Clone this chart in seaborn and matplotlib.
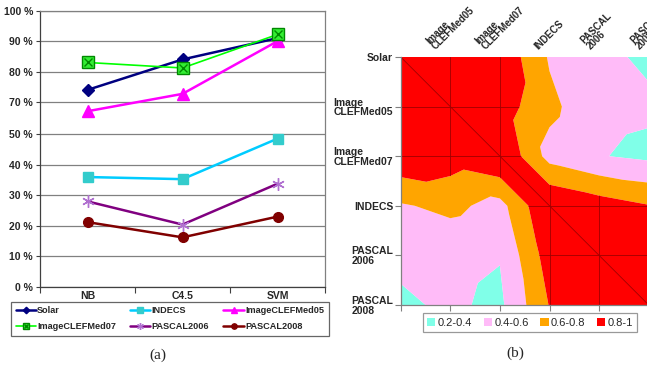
import numpy as np
import matplotlib
matplotlib.use('Agg')
import matplotlib.pyplot as plt
import seaborn as sns
from matplotlib.patches import Patch
from matplotlib.ticker import FixedLocator
from matplotlib.tri import Triangulation

# ---- panel (a): accuracy (%) of each classifier on each dataset ----
classifiers = ['NB', 'C4.5', 'SVM']
solar = [74, 84, 91]
indecs = [36, 35.3, 48.6]
clef05 = [67, 72.7, 90]
clef07 = [83, 81.2, 92.2]
pascal06 = [28, 20.4, 33.8]
pascal08 = [21.2, 16.2, 23]
y_ticks = [0, 10, 20, 30, 40, 50, 70, 80, 90, 100]  # original chart has no 60 % row

# ---- panel (b): similarity between datasets ----
row_names = ['Solar', 'Image\nCLEFMed05', 'Image\nCLEFMed07', 'INDECS', 'PASCAL\n2006', 'PASCAL\n2008']
col_names = ['', 'Image\nCLEFMed05', 'Image\nCLEFMed07', 'INDECS', 'PASCAL\n2006', 'PASCAL\n2008']
sim_solar = [1.00, 0.93, 0.96, 0.58, 0.44, 0.37]
sim_clef05 = [0.93, 1.00, 0.90, 0.65, 0.45, 0.43]
sim_clef07 = [0.96, 0.90, 1.00, 0.53, 0.41, 0.36]
sim_indecs = [0.58, 0.65, 0.53, 1.00, 0.90, 0.81]
sim_pascal06 = [0.44, 0.45, 0.41, 0.90, 1.00, 0.92]
sim_pascal08 = [0.37, 0.43, 0.36, 0.81, 0.92, 1.00]
levels = [0.2, 0.4, 0.6, 0.8, 1.0]
level_names = ['0.2-0.4', '0.4-0.6', '0.6-0.8', '0.8-1']
level_colors = ['#80FFE8', '#FFBBF8', '#FFA500', '#FF0000']

sns.set_theme(style='white')
plt.rcParams['font.family'] = ['Liberation Sans', 'DejaVu Sans']

W, H = 647, 365
fig = plt.figure(figsize=(W / 100, H / 100), dpi=100)


def squash(v):
    # the 50-60 % band was cut out of the original axis
    v = np.asarray(v, dtype=float)
    return np.where(v <= 50, v, np.where(v >= 60, v - 9.4, 50 + (v - 50) * 0.06))


def unsquash(t):
    t = np.asarray(t, dtype=float)
    return np.where(t <= 50, t, np.where(t >= 50.6, t + 9.4, 50 + (t - 50) / 0.06))


# ---------------- (a) ----------------
ax1 = fig.add_axes([40 / W, 1 - 286.7 / H, 285 / W, 276 / H])
series = [
    # name, values, line colour, marker, marker colour, marker size, line width
    ('Solar', solar, '#000080', 'D', '#000080', 6, 1.8),
    ('INDECS', indecs, '#00CCFF', 's', '#33CCCC', 7.5, 1.8),
    ('ImageCLEFMed05', clef05, '#FF00FF', '^', '#FF00FF', 8, 1.8),
    ('ImageCLEFMed07', clef07, '#00FF00', 's', '#33EE33', 8, 1.2),
    ('PASCAL2006', pascal06, '#800080', (6, 2, 0), '#B070D0', 9, 1.8),
    ('PASCAL2008', pascal08, '#800000', 'o', '#800000', 7, 1.8),
]
handles = {}
for name, vals, lc, mk, mc, ms, lw in series:
    sns.lineplot(x=classifiers, y=vals, ax=ax1, sort=False, errorbar=None,
                 color=lc, lw=lw, marker=mk, ms=ms, mfc=mc, mec=mc, mew=1.0)
    handles[name] = ax1.lines[-1]
    if name == 'ImageCLEFMed07':
        # square with a cross, like the Excel marker
        ax1.lines[-1].set_markeredgecolor('#008800')
        sns.lineplot(x=classifiers, y=vals, ax=ax1, sort=False, errorbar=None,
                     color='#008800', linestyle='', marker='x', ms=6, mec='#008800', mew=1.0)
        handles[name] = (handles[name], ax1.lines[-1])

ax1.set_yscale('function', functions=(squash, unsquash))
ax1.set_ylim(0, 100)
ax1.set_yticks(y_ticks)
ax1.set_yticklabels([f'{t} %' for t in y_ticks])
ax1.yaxis.set_minor_locator(FixedLocator([]))
ax1.yaxis.grid(True, color='#808080', lw=0.9)
ax1.set_axisbelow(True)
ax1.set_xlim(-0.5, 2.5)
ax1.xaxis.set_minor_locator(FixedLocator([-0.5, 0.5, 1.5, 2.5]))
ax1.tick_params(axis='x', which='major', length=0, pad=3)
ax1.tick_params(axis='x', which='minor', length=4, width=0.8, color='#404040', direction='out', bottom=True)
ax1.tick_params(axis='y', length=3, width=0.8, color='#404040', direction='out', left=True, pad=2)
for lbl in ax1.get_xticklabels() + ax1.get_yticklabels():
    lbl.set_fontsize(7.5)
    lbl.set_fontweight('bold')
ax1.set_xlabel('')
ax1.set_ylabel('')
for side in ['left', 'bottom']:
    ax1.spines[side].set_color('#404040')
    ax1.spines[side].set_linewidth(0.9)
for side in ['top', 'right']:
    ax1.spines[side].set_color('#808080')
    ax1.spines[side].set_linewidth(0.9)

order = ['Solar', 'ImageCLEFMed07', 'INDECS', 'PASCAL2006', 'ImageCLEFMed05', 'PASCAL2008']
leg1 = fig.legend([handles[n] for n in order], order, loc='upper left',
                  bbox_to_anchor=(11 / W, 1 - 301.7 / H), borderaxespad=0, ncol=3,
                  frameon=True, fancybox=False, edgecolor='#404040',
                  prop={'size': 6.6, 'weight': 'bold'},
                  handlelength=2.2, handletextpad=0.15, columnspacing=1.55, borderpad=0.5,
                  labelspacing=0.75, markerscale=0.55)
leg1.get_frame().set_linewidth(0.9)

fig.text(158 / W, 1 - 355 / H, '(a)', ha='center', va='center', fontsize=11, family='Liberation Serif')

# ---------------- (b) ----------------
ax2 = fig.add_axes([400.7 / W, 1 - 305 / H, 248 / W, 248 / H])
sim = np.array([sim_solar, sim_clef05, sim_clef07, sim_indecs, sim_pascal06, sim_pascal08])
n_rows, n_cols = sim.shape
cc, rr = np.meshgrid(np.arange(n_cols), np.arange(n_rows))
idx = np.arange(n_rows * n_cols).reshape(n_rows, n_cols)
tris = []
for r in range(n_rows - 1):
    for c in range(n_cols - 1):
        # split each cell along the top-left to bottom-right diagonal (Excel style)
        tris.append([idx[r, c], idx[r, c + 1], idx[r + 1, c + 1]])
        tris.append([idx[r, c], idx[r + 1, c], idx[r + 1, c + 1]])
tri = Triangulation(cc.ravel(), rr.ravel(), tris)
cs = ax2.tricontourf(tri, sim.ravel(), levels=levels, colors=level_colors, antialiased=True)
ax2.set_xlim(0, n_cols - 1)
ax2.set_ylim(n_rows - 1, 0)

# dark grid only shows inside the 0.8-1 band
red_path = cs.get_paths()[-1]
for k in range(1, n_rows):
    for ln in (ax2.axvline(k, color='#A00000', lw=0.6), ax2.axhline(k, color='#A00000', lw=0.6)):
        ln.set_clip_path(red_path, ax2.transData)
diag = ax2.axline((0, 0), (1, 1), color='#A00000', lw=0.6)
diag.set_clip_path(red_path, ax2.transData)

ax2.set_yticks(range(n_rows))
ax2.set_yticklabels(row_names)
ax2.set_xticks(range(n_cols))
ax2.set_xticklabels(col_names)
ax2.tick_params(axis='x', bottom=True, top=False, labelbottom=False, labeltop=True,
                labelrotation=45, length=4, width=0.8, color='#808080', direction='out', pad=0)
ax2.tick_params(axis='y', left=True, length=4, width=0.8, color='#808080', direction='out', pad=1.5)
for lbl in ax2.get_xticklabels() + ax2.get_yticklabels():
    lbl.set_fontweight('bold')
    lbl.set_multialignment('left')
for lbl in ax2.get_xticklabels():
    lbl.set_fontsize(7)
    lbl.set_ha('center')
    lbl.set_linespacing(0.8)
for lbl in ax2.get_yticklabels():
    lbl.set_fontsize(7.5)
    lbl.set_linespacing(0.95)
for side in ['top', 'right']:
    ax2.spines[side].set_visible(False)
for side in ['left', 'bottom']:
    ax2.spines[side].set_color('#808080')
    ax2.spines[side].set_linewidth(0.9)

patches = [Patch(facecolor=c, edgecolor='none', label=n) for c, n in zip(level_colors, level_names)]
leg2 = fig.legend(handles=patches, loc='upper left', bbox_to_anchor=(422.7 / W, 1 - 313.3 / H),
                  borderaxespad=0, ncol=4, frameon=True, fancybox=False, edgecolor='#808080',
                  fontsize=8, handlelength=0.75, handleheight=0.75, handletextpad=0.2,
                  columnspacing=1.05, borderpad=0.4)
leg2.get_frame().set_linewidth(0.9)

fig.text(515 / W, 1 - 353.3 / H, '(b)', ha='center', va='center', fontsize=11, family='Liberation Serif')

fig.savefig('out.png', dpi=100)
